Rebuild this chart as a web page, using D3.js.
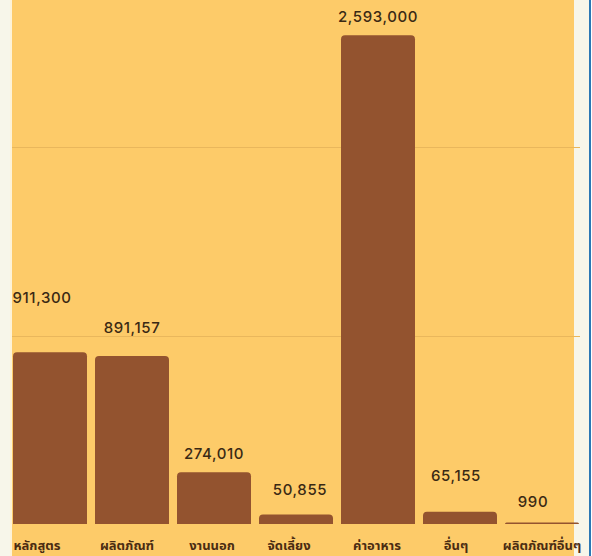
<!DOCTYPE html>
<html><head><meta charset="utf-8">
<script src="https://cdn.jsdelivr.net/npm/d3@7"></script>
<style>
html,body{margin:0;padding:0;background:#ffffff;}
svg{display:block;}
</style></head>
<body>
<svg id="chart" width="592" height="556"></svg>
<script>
const categories = ["หลักสูตร","ผลิตภัณฑ์","งานนอก","จัดเลี้ยง","ค่าอาหาร","อื่นๆ","ผลิตภัณฑ์อื่นๆ"];
const values = [911300, 891157, 274010, 50855, 2593000, 65155, 990];
const gridTicks = [1000000, 2000000, 3000000];
// label nudges (layout only)
const labelDx = [-8, 0, 0, 4, 0, -4, -9];
const labelDy = [36, 10, 0, 6, 0, 18, 4];
const catDx = [-13, -5, -2, -7, -1, -4, 0];

const W = 592, H = 556;
const svg = d3.select("#chart");

// frame
svg.append("rect").attr("x",0).attr("y",0).attr("width",W).attr("height",H).attr("fill","#f7f6ea");
svg.append("rect").attr("x",10).attr("y",0).attr("width",2).attr("height",H).attr("fill","#fdf3d8");
svg.append("rect").attr("x",12).attr("y",0).attr("width",562).attr("height",H).attr("fill","#fdcb69");
svg.append("rect").attr("x",589).attr("y",0).attr("width",2).attr("height",H).attr("fill","#2b78b5");
svg.append("rect").attr("x",591).attr("y",0).attr("width",1).attr("height",H).attr("fill","#ffffff");

const x = d3.scaleBand().domain(categories).range([13, 579]).paddingInner(8/82).paddingOuter(0);
const y = d3.scaleLinear().domain([0, 3000000]).range([524, 524 - 3*188.5]);

// gridlines
svg.append("g").selectAll("line").data(gridTicks).join("line")
  .attr("x1", 12).attr("x2", 580)
  .attr("y1", d => Math.round(y(d)) + 0.5).attr("y2", d => Math.round(y(d)) + 0.5)
  .attr("stroke", "#e9b75c").attr("stroke-width", 1);

function topRounded(x0, y0, w, h, r){
  r = Math.min(r, h, w/2);
  return `M${x0},${y0+h}V${y0+r}Q${x0},${y0} ${x0+r},${y0}H${x0+w-r}Q${x0+w},${y0} ${x0+w},${y0+r}V${y0+h}Z`;
}

const data = categories.map((c,i)=>({c, v: values[i], i}));

svg.append("g").selectAll("path").data(data).join("path")
  .attr("d", d => {
    const h = Math.max(1.5, y(0) - y(d.v));
    return topRounded(x(d.c), y(0) - h, x.bandwidth(), h, 4);
  })
  .attr("fill", "#93532f");

svg.append("g").selectAll("text").data(data).join("text")
  .attr("x", d => x(d.c) + x.bandwidth()/2 + labelDx[d.i])
  .attr("y", d => y(d.v) - 13 - labelDy[d.i])
  .attr("text-anchor", "middle")
  .attr("font-family", "Inter, 'Open Sans', sans-serif")
  .attr("font-size", 15)
  .attr("font-weight", 500)
  .attr("letter-spacing", 0.6)
  .attr("fill", "#3a2914")
  .text(d => d3.format(",")(d.v));

svg.append("g").selectAll("text").data(data).join("text")
  .attr("x", d => x(d.c) + x.bandwidth()/2 + catDx[d.i])
  .attr("y", 550)
  .attr("text-anchor", "middle")
  .attr("font-family", "'Noto Sans Thai', 'Noto Sans', sans-serif")
  .attr("font-size", 13)
  .attr("font-weight", 700)
  .attr("fill", "#4a2c12")
  .text(d => d.c);
</script>
</body></html>
